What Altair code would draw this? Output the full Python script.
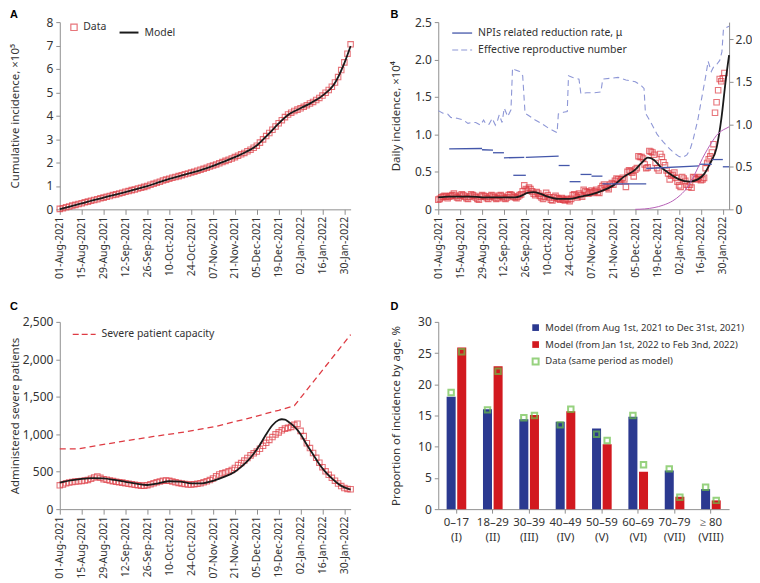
import json
import altair as alt
import pandas as pd

# ---------------- shared time axis ----------------
TICK_DAYS = list(range(0, 183, 14))
TICK_LABELS = ["01-Aug-2021", "15-Aug-2021", "29-Aug-2021", "12-Sep-2021", "26-Sep-2021",
               "10-Oct-2021", "24-Oct-2021", "07-Nov-2021", "21-Nov-2021", "05-Dec-2021",
               "19-Dec-2021", "02-Jan-2022", "16-Jan-2022", "30-Jan-2022"]
X_MAX = 186

# ---------------- Panel A: cumulative incidence (x10^5) ----------------
A_DAYS = list(range(0, 187, 2))
A_DATA = [0.02, 0.05, 0.09, 0.12, 0.16, 0.19, 0.23, 0.26, 0.30, 0.33, 0.37, 0.40, 0.43, 0.47,
          0.50, 0.54, 0.57, 0.61, 0.64, 0.68, 0.71, 0.75, 0.78, 0.82, 0.85, 0.89, 0.92, 0.96,
          1.00, 1.05, 1.09, 1.14, 1.18, 1.23, 1.27, 1.31, 1.35, 1.38, 1.42, 1.46, 1.50, 1.53,
          1.57, 1.61, 1.65, 1.69, 1.73, 1.78, 1.83, 1.87, 1.92, 1.97, 2.02, 2.07, 2.12, 2.17,
          2.23, 2.29, 2.35, 2.41, 2.48, 2.55, 2.63, 2.72, 2.85, 2.99, 3.13, 3.26, 3.40, 3.54,
          3.68, 3.81, 3.94, 4.05, 4.13, 4.20, 4.26, 4.32, 4.38, 4.45, 4.52, 4.59, 4.67, 4.76,
          4.86, 4.98, 5.10, 5.24, 5.42, 5.65, 5.95, 6.28, 6.65, 7.05]
A_MODEL_DAYS = list(range(0, 183, 7)) + [186]
A_MODEL = [0.01, 0.13, 0.25, 0.38, 0.50, 0.62, 0.74, 0.86, 0.99, 1.15, 1.30, 1.43, 1.56, 1.70,
           1.86, 2.04, 2.23, 2.45, 2.73, 3.18, 3.67, 4.08, 4.32, 4.56, 4.86, 5.30, 6.25, 6.98]

# ---------------- Panel B: daily incidence (x10^4) ----------------
B_DATA = [0.13, 0.14, 0.16, 0.17, 0.18, 0.17, 0.15, 0.17, 0.18, 0.19, 0.21, 0.18, 0.16, 0.15,
          0.18, 0.20, 0.19, 0.17, 0.15, 0.14, 0.17, 0.20, 0.19, 0.18, 0.16, 0.14, 0.13, 0.17,
          0.19, 0.18, 0.17, 0.15, 0.14, 0.17, 0.19, 0.18, 0.16, 0.14, 0.15, 0.18, 0.19, 0.17,
          0.15, 0.14, 0.16, 0.19, 0.20, 0.19, 0.17, 0.16, 0.15, 0.17, 0.19, 0.20, 0.24, 0.32,
          0.27, 0.25, 0.29, 0.27, 0.24, 0.21, 0.19, 0.23, 0.21, 0.18, 0.16, 0.14, 0.17, 0.22,
          0.19, 0.16, 0.13, 0.12, 0.16, 0.18, 0.15, 0.14, 0.13, 0.15, 0.13, 0.12, 0.14, 0.13,
          0.11, 0.14, 0.19, 0.20, 0.18, 0.16, 0.21, 0.19, 0.17, 0.26, 0.24, 0.23, 0.21, 0.23,
          0.25, 0.22, 0.24, 0.26, 0.23, 0.22, 0.28, 0.31, 0.33, 0.30, 0.29, 0.27, 0.33, 0.35,
          0.33, 0.38, 0.41, 0.40, 0.37, 0.40, 0.42, 0.40, 0.30, 0.50, 0.52, 0.51, 0.49, 0.44,
          0.53, 0.55, 0.71, 0.70, 0.70, 0.68, 0.60, 0.55, 0.56, 0.78, 0.77, 0.76, 0.73, 0.62,
          0.55, 0.52, 0.74, 0.70, 0.63, 0.59, 0.52, 0.48, 0.40, 0.45, 0.46, 0.49, 0.42, 0.37,
          0.32, 0.30, 0.43, 0.41, 0.38, 0.33, 0.30, 0.33, 0.29, 0.43, 0.42, 0.40, 0.41, 0.43,
          0.39, 0.40, 0.42, 0.55, 0.62, 0.67, 0.71, 0.76, 0.87, 1.29, 1.43, 1.59, 1.74, 1.71,
          1.75, 1.82]
B_MODEL_DAYS = [0, 7, 14, 21, 28, 35, 42, 49, 53, 57, 61, 65, 70, 77, 84, 91, 98, 105, 112,
                119, 126, 130, 134, 138, 142, 147, 154, 161, 166, 170, 174, 178, 181, 184, 186]
B_MODEL = [0.16, 0.17, 0.17, 0.17, 0.16, 0.16, 0.16, 0.16, 0.18, 0.22, 0.23, 0.21, 0.17, 0.14,
           0.14, 0.17, 0.20, 0.25, 0.32, 0.44, 0.53, 0.62, 0.69, 0.66, 0.57, 0.49, 0.40, 0.37,
           0.40, 0.47, 0.62, 0.82, 1.20, 1.75, 2.06]
# NPIs related reduction rate (right axis), piecewise segments
MU_START = [7, 28, 35, 42, 48, 56, 77, 84, 91, 98, 105, 133, 167, 175, 182]
MU_END = [28, 35, 42, 55, 56, 77, 84, 91, 98, 105, 133, 167, 175, 182, 186]
MU_V0 = [0.71, 0.70, 0.665, 0.605, 0.40, 0.61, 0.515, 0.325, 0.41, 0.39, 0.30, 0.48, 0.53, 0.585, 0.50]
MU_V1 = [0.715, 0.695, 0.665, 0.61, 0.40, 0.625, 0.515, 0.325, 0.41, 0.39, 0.30, 0.51, 0.53, 0.585, 0.50]
# Effective reproductive number (right axis)
R_DAYS = [0, 3, 6, 8, 12, 16, 19, 21, 24, 27, 29, 30.5, 32.5, 34.5, 36.5, 38, 39, 40.8, 42.2, 44.4,
          46.5, 47.5, 49, 52, 54, 55.5, 58, 62, 66, 70, 73, 76, 76.8, 80, 82.5, 83.3, 86, 90, 91.2, 95,
          100, 104, 105.2, 110, 115, 120, 126, 130, 131.6, 132.5, 136, 140, 144, 148, 151, 154, 156.5,
          159, 161, 163, 166, 169, 171, 172.6, 174.6, 176, 178, 180, 181.4, 182.4, 186]
R_VALS = [1.16, 1.13, 1.12, 1.08, 1.07, 1.05, 1.01, 1.02, 1.02, 0.99, 1.05, 1.00, 1.00, 1.07, 0.99,
          1.05, 1.11, 1.02, 1.19, 1.09, 1.17, 1.66, 1.64, 1.62, 1.57, 1.13, 1.10, 1.05, 1.01, 0.96,
          0.93, 0.90, 1.12, 1.14, 1.15, 1.57, 1.55, 1.53, 1.36, 1.37, 1.37, 1.38, 1.53, 1.54, 1.55,
          1.52, 1.50, 1.45, 1.42, 1.13, 1.02, 0.88, 0.79, 0.71, 0.66, 0.62, 0.61, 0.64, 0.70, 0.82,
          1.05, 1.36, 1.56, 1.74, 1.62, 1.67, 1.70, 1.75, 1.85, 2.12, 2.15]
# thin rising curve (right axis)
PINK_DAYS = [126, 132, 138, 144, 150, 155, 159, 164, 169, 172, 175, 178, 181, 184, 186]
PINK_VALS = [0.0, 0.005, 0.02, 0.05, 0.10, 0.17, 0.25, 0.41, 0.60, 0.70, 0.79, 0.87, 0.92, 0.95, 0.97]

# ---------------- Panel C: administered severe patients ----------------
C_DAYS = list(range(0, 187, 2))
C_DATA = [318, 328, 345, 355, 362, 368, 372, 375, 382, 390, 405, 422, 435, 418, 400, 392, 382,
          374, 366, 360, 354, 346, 338, 332, 325, 320, 314, 312, 320, 332, 345, 358, 370, 380,
          382, 378, 368, 358, 350, 342, 335, 328, 328, 333, 338, 345, 358, 372, 388, 410, 438,
          462, 478, 490, 505, 522, 550, 588, 615, 648, 682, 718, 745, 770, 805, 845, 885, 925,
          962, 998, 1025, 1052, 1075, 1085, 1098, 1125, 1140, 1045, 975, 880, 815, 750, 685,
          620, 560, 505, 458, 418, 380, 342, 308, 282, 270, 265]
C_MODEL_DAYS = [0, 7, 14, 21, 28, 35, 42, 49, 56, 63, 70, 77, 84, 91, 98, 105, 112, 116, 120, 124,
                128, 132, 136, 140, 142, 144, 146, 150, 154, 158, 162, 166, 170, 174, 178, 182, 186]
C_MODEL = [355, 385, 405, 415, 410, 390, 365, 340, 322, 345, 372, 368, 345, 345, 378, 430, 500,
           565, 640, 740, 860, 1000, 1120, 1190, 1200, 1195, 1170, 1100, 1000, 860, 730, 600, 495,
           410, 340, 290, 262]
CAP_DAYS = [0, 12, 20, 40, 60, 80, 100, 120, 140, 150, 186]
CAP_VALS = [805, 805, 835, 905, 970, 1030, 1105, 1210, 1320, 1380, 2330]

# ---------------- Panel D: proportion of incidence by age ----------------
AGES = ["0–17\n(I)", "18–29\n(II)", "30–39\n(III)", "40–49\n(IV)", "50–59\n(V)",
        "60–69\n(VI)", "70–79\n(VII)", "≥ 80\n(VIII)"]
P1 = "Model (from Aug 1st, 2021 to Dec 31st, 2021)"
P2 = "Model (from Jan 1st, 2022 to Feb 3nd, 2022)"
DATA_LABEL = "Data (same period as model)"
MODEL_P1 = [18.0, 16.0, 14.4, 14.0, 12.9, 14.8, 6.2, 3.2]
MODEL_P2 = [25.9, 22.9, 15.1, 15.7, 10.4, 6.0, 2.0, 1.4]
DATA_P1 = [18.7, 15.9, 14.65, 13.5, 12.0, 15.0, 6.45, 3.5]
DATA_P2 = [25.2, 22.1, 15.0, 16.0, 11.0, 7.1, 1.9, 1.4]

# ---------------- styling ----------------
FONT = "Noto Sans"
AX = "#8f8f8f"
TXT = "#333333"
RED = "#de3b43"
BLACK = "#1a1a1a"
NAVY = "#2b3990"
BARRED = "#d2191f"
GREEN = "#6cc04a"
MUBLUE = "#4457aa"
LAV = "#8e97d6"
PINK = "#b660b6"
W, H = 292, 188
DEC_EXPR = "datum.value == 0 ? '0' : format(datum.value, '.1f')"


def time_x():
    return alt.X("day:Q", scale=alt.Scale(domain=[0, X_MAX], nice=False, zero=False),
                 axis=alt.Axis(values=TICK_DAYS,
                               labelExpr=json.dumps(TICK_LABELS) + "[round(datum.value / 14)]",
                               labelAngle=-90, labelFontSize=10.5, tickSize=5, labelPadding=2,
                               labelOverlap=False, labelFlush=False, title=None))


def left_axis(title, values, title_x, fmt=None, expr=None):
    kw = dict(title=title, values=values, titleX=title_x, titleY=H / 2, titleAngle=270,
              titleAlign="center", titleBaseline="middle", tickSize=4, labelPadding=3)
    if fmt is not None:
        kw["format"] = fmt
    if expr is not None:
        kw["labelExpr"] = expr
    return alt.Axis(**kw)


def legend(x, y, **extra):
    kw = dict(orient="none", legendX=x, legendY=y, title=None, padding=0, offset=0,
              labelFont=FONT, labelFontSize=10.5, labelColor=TXT, labelOffset=5, labelLimit=400)
    kw.update(extra)
    return alt.Legend(**kw)


def letter(txt, off):
    return alt.TitleParams(txt, anchor="start", frame="bounds", fontSize=11, fontWeight="bold",
                           font="Liberation Sans", color="black", offset=off)


# ---------- Panel A ----------
a_df = pd.DataFrame({"day": A_DAYS, "value": A_DATA, "series": "Data"})
am_df = pd.DataFrame({"day": A_MODEL_DAYS, "value": A_MODEL, "series": "Model"})
a_y = alt.Y("value:Q", scale=alt.Scale(domain=[0, 8], nice=False),
            axis=left_axis("Cumulative incidence, ×10⁵", list(range(9)), -44))
a_pts = alt.Chart(a_df).mark_point(shape="square", filled=False, size=30, strokeWidth=1.1).encode(
    x=time_x(), y=a_y,
    color=alt.Color("series:N", scale=alt.Scale(domain=["Data"], range=[RED]),
                    legend=legend(9, 0, symbolType="square", symbolSize=40, symbolStrokeWidth=1.2,
                                  labelOffset=4)))
a_line = alt.Chart(am_df).mark_line(strokeWidth=1.8, interpolate="monotone").encode(
    x=time_x(), y=a_y,
    color=alt.Color("series:N", scale=alt.Scale(domain=["Model"], range=[BLACK]),
                    legend=legend(59, 0, symbolType="stroke", symbolSize=361, symbolStrokeWidth=2)))
panel_a = alt.layer(a_pts, a_line).resolve_scale(color="independent").properties(
    width=W, height=H, title=letter("A", -4))

# ---------- Panel B ----------
b_df = pd.DataFrame({"day": list(range(len(B_DATA))), "value": B_DATA})
bm_df = pd.DataFrame({"day": B_MODEL_DAYS, "value": B_MODEL})
MU_LABEL = "NPIs related reduction rate, μ"
R_LABEL = "Effective reproductive number"
mu_rows = []
for i, (d0, d1, v0, v1) in enumerate(zip(MU_START, MU_END, MU_V0, MU_V1)):
    mu_rows.append({"seg": i, "day": d0, "rv": v0, "series": MU_LABEL})
    mu_rows.append({"seg": i, "day": d1, "rv": v1, "series": MU_LABEL})
mu_df = pd.DataFrame(mu_rows)
r_df = pd.DataFrame({"day": R_DAYS, "rv": R_VALS, "series": R_LABEL})
p_df = pd.DataFrame({"day": PINK_DAYS, "rv": PINK_VALS})

b_y = alt.Y("value:Q", scale=alt.Scale(domain=[0, 2.5], nice=False),
            axis=left_axis("Daily incidence, ×10⁴", [0, 0.5, 1, 1.5, 2, 2.5], -42, expr=DEC_EXPR))
r_y = alt.Y("rv:Q", scale=alt.Scale(domain=[0, 2.2], nice=False),
            axis=alt.Axis(orient="right", values=[0, 0.5, 1, 1.5, 2], title=None, labelExpr=DEC_EXPR,
                          tickSize=4, labelPadding=2))
b_pts = alt.Chart(b_df).mark_point(shape="square", filled=False, size=30, strokeWidth=1.1,
                                   color=RED).encode(x=time_x(), y=b_y)
b_model = alt.Chart(bm_df).mark_line(color=BLACK, strokeWidth=1.8, interpolate="monotone").encode(
    x=time_x(), y=b_y)
b_mu = alt.Chart(mu_df).mark_line(strokeWidth=1.3).encode(
    x=time_x(), y=r_y, detail="seg:N",
    color=alt.Color("series:N", scale=alt.Scale(domain=[MU_LABEL], range=[MUBLUE]),
                    legend=legend(13, 0, symbolType="stroke", symbolSize=400, symbolStrokeWidth=1.3)))
b_r = alt.Chart(r_df).mark_line(strokeWidth=1.1, strokeDash=[6, 4]).encode(
    x=time_x(), y=r_y,
    color=alt.Color("series:N", scale=alt.Scale(domain=[R_LABEL], range=[LAV]),
                    legend=legend(13, 17, symbolType="stroke", symbolSize=400, symbolStrokeWidth=1.2,
                                  symbolDash=[6, 3])))
b_pink = alt.Chart(p_df).mark_line(color=PINK, strokeWidth=1, interpolate="monotone").encode(
    x=time_x(), y=r_y)
b_left = alt.layer(b_pts, b_model)
b_right = alt.layer(b_mu, b_r, b_pink).resolve_scale(color="independent")
panel_b = alt.layer(b_left, b_right).resolve_scale(y="independent", color="independent").properties(
    width=W, height=H, title=letter("B", -4))

# ---------- Panel C ----------
c_df = pd.DataFrame({"day": C_DAYS, "value": C_DATA})
cm_df = pd.DataFrame({"day": C_MODEL_DAYS, "value": C_MODEL})
cap_df = pd.DataFrame({"day": CAP_DAYS, "value": CAP_VALS, "series": "Severe patient capacity"})
c_y = alt.Y("value:Q", scale=alt.Scale(domain=[0, 2500], nice=False),
            axis=left_axis("Administered severe patients", [0, 500, 1000, 1500, 2000, 2500], -44,
                           fmt=",.0f"))
c_pts = alt.Chart(c_df).mark_point(shape="square", filled=False, size=30, strokeWidth=1.1,
                                   color=RED).encode(x=time_x(), y=c_y)
c_model = alt.Chart(cm_df).mark_line(color=BLACK, strokeWidth=1.8, interpolate="monotone").encode(
    x=time_x(), y=c_y)
c_cap = alt.Chart(cap_df).mark_line(strokeWidth=1.3, strokeDash=[6, 4]).encode(
    x=time_x(), y=c_y,
    color=alt.Color("series:N", scale=alt.Scale(domain=["Severe patient capacity"], range=[RED]),
                    legend=legend(12, 0, symbolType="stroke", symbolSize=529, symbolStrokeWidth=1.3,
                                  symbolDash=[6, 3])))
panel_c = alt.layer(c_cap, c_pts, c_model).resolve_scale(color="independent").properties(
    width=W, height=H, title=letter("C", 4))

# ---------- Panel D ----------
d_bar = pd.DataFrame({"age": AGES * 2, "period": [P1] * 8 + [P2] * 8, "value": MODEL_P1 + MODEL_P2})
d_pt = pd.DataFrame({"age": AGES * 2, "period": [P1] * 8 + [P2] * 8, "value": DATA_P1 + DATA_P2,
                     "kind": DATA_LABEL})
d_x = alt.X("age:N", sort=AGES, scale=alt.Scale(paddingInner=0.46, paddingOuter=0.23),
            axis=alt.Axis(title=None, labelAngle=0, labelExpr="split(datum.label, '\\n')",
                          labelLineHeight=15, labelFontSize=11.5, tickSize=4, labelPadding=3))
d_xo = alt.XOffset("period:N", sort=[P1, P2], scale=alt.Scale(paddingInner=0.15))
d_y = alt.Y("value:Q", scale=alt.Scale(domain=[0, 30], nice=False),
            axis=left_axis("Proportion of incidence by age, %", [0, 5, 10, 15, 20, 25, 30], -42))
d_bars = alt.Chart(d_bar).mark_bar().encode(
    x=d_x, xOffset=d_xo, y=d_y,
    color=alt.Color("period:N", sort=[P1, P2], scale=alt.Scale(domain=[P1, P2], range=[NAVY, BARRED]),
                    legend=legend(93, 1, symbolType="square", symbolSize=45, rowPadding=6,
                                  labelFontSize=9.5, symbolStrokeWidth=0)))
d_pts = alt.Chart(d_pt).mark_point(shape="square", filled=False, size=30, strokeWidth=2).encode(
    x=d_x, xOffset=d_xo, y=d_y,
    color=alt.Color("kind:N", scale=alt.Scale(domain=[DATA_LABEL], range=[GREEN]),
                    legend=legend(93, 35, symbolType="square", symbolSize=36, symbolStrokeWidth=2,
                                  labelFontSize=9.5)))
panel_d = alt.layer(d_bars, d_pts).resolve_scale(color="independent").properties(
    width=W, height=H, title=letter("D", 4))

chart = alt.concat(panel_a, panel_b, panel_c, panel_d, columns=2, bounds="flush",
                   spacing={"row": 113, "column": 88}).resolve_scale(
    color="independent").resolve_legend(color="independent").properties(
    padding={"left": 2, "top": 0, "right": 0, "bottom": 0}).configure_view(
    stroke=None).configure_axis(
    grid=False, domainColor=AX, tickColor=AX, labelColor=TXT, titleColor=TXT,
    labelFont=FONT, titleFont=FONT, labelFontSize=12, titleFontSize=11.5, titleFontWeight="normal")

chart.save("out.html", embed_options={"renderer": "svg", "actions": False})
